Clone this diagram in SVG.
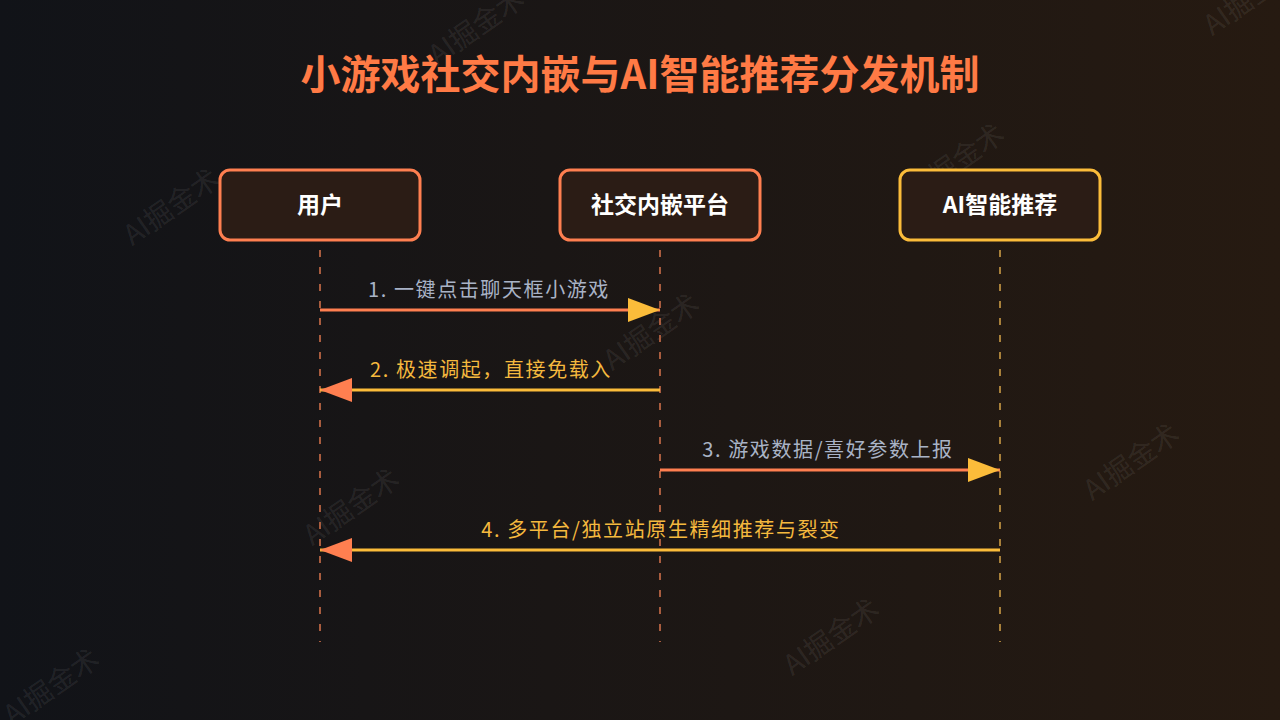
<svg xmlns="http://www.w3.org/2000/svg" width="1280" height="720" viewBox="0 0 1280 720">
<defs>
<linearGradient id="bg" x1="0" y1="0" x2="1" y2="0">
<stop offset="0" stop-color="#111318"/>
<stop offset="1" stop-color="#261a11"/>
</linearGradient>
<marker id="hGold" viewBox="0 0 32 24" refX="32" refY="12" markerWidth="32" markerHeight="24" markerUnits="userSpaceOnUse" orient="auto">
<path d="M0,0 L32,12 L0,24 Z" fill="#fbbc3a"/>
</marker>
<marker id="hCoral" viewBox="0 0 32 24" refX="32" refY="12" markerWidth="32" markerHeight="24" markerUnits="userSpaceOnUse" orient="auto">
<path d="M0,0 L32,12 L0,24 Z" fill="#ff7f50"/>
</marker>
</defs>
<style>
.wm{font-family:"Noto Sans CJK SC","Noto Sans",sans-serif;font-size:28px;fill:#ffffff;fill-opacity:0.085}
.title{font-family:"Noto Sans CJK SC","Noto Sans",sans-serif;font-size:40px;font-weight:bold;fill:#ff7a45}
.box{fill:#2b1c15;stroke-width:3}
.ntext{font-family:"Noto Sans CJK SC","Noto Sans",sans-serif;font-size:23px;font-weight:bold;fill:#ffffff}
.life{stroke-width:2;stroke-dasharray:7 10;fill:none}
.lbl{font-family:"Noto Sans CJK SC","Noto Sans",sans-serif;font-size:20px;letter-spacing:1.6px}
.msg{stroke-width:3;fill:none}
</style>
<rect width="1280" height="720" fill="url(#bg)"/>
<g id="watermarks">
<text class="wm" transform="translate(170,205) rotate(-35)" text-anchor="middle" dominant-baseline="central">AI掘金术</text>
<text class="wm" transform="translate(475,25) rotate(-35)" text-anchor="middle" dominant-baseline="central">AI掘金术</text>
<text class="wm" transform="translate(955,160) rotate(-35)" text-anchor="middle" dominant-baseline="central">AI掘金术</text>
<text class="wm" transform="translate(650,330) rotate(-35)" text-anchor="middle" dominant-baseline="central">AI掘金术</text>
<text class="wm" transform="translate(350,505) rotate(-35)" text-anchor="middle" dominant-baseline="central">AI掘金术</text>
<text class="wm" transform="translate(1130,460) rotate(-35)" text-anchor="middle" dominant-baseline="central">AI掘金术</text>
<text class="wm" transform="translate(830,635) rotate(-35)" text-anchor="middle" dominant-baseline="central">AI掘金术</text>
<text class="wm" transform="translate(50,685) rotate(-35)" text-anchor="middle" dominant-baseline="central">AI掘金术</text>
<text class="wm" transform="translate(1250,-5) rotate(-35)" text-anchor="middle" dominant-baseline="central">AI掘金术</text>
</g>
<text class="title" x="640" y="89" text-anchor="middle">小游戏社交内嵌与AI智能推荐分发机制</text>
<g id="lifelines">
<line class="life" x1="320" y1="250" x2="320" y2="642" stroke="#a85c3e"/>
<line class="life" x1="660" y1="250" x2="660" y2="642" stroke="#a85c3e"/>
<line class="life" x1="1000" y1="250" x2="1000" y2="642" stroke="#a8803a"/>
</g>
<g id="node-user">
<rect class="box" x="220" y="170" width="200" height="70" rx="10" stroke="#ff7f50"/>
<text class="ntext" x="320" y="213" text-anchor="middle">用户</text>
</g>
<g id="node-platform">
<rect class="box" x="560" y="170" width="200" height="70" rx="10" stroke="#ff7f50"/>
<text class="ntext" x="660" y="213" text-anchor="middle">社交内嵌平台</text>
</g>
<g id="node-ai">
<rect class="box" x="900" y="170" width="200" height="70" rx="10" stroke="#fbbc3a"/>
<text class="ntext" x="1000" y="213" text-anchor="middle">AI智能推荐</text>
</g>
<g id="connectors">
<line class="msg" x1="320" y1="310" x2="660" y2="310" stroke="#ff7f50" marker-end="url(#hGold)"/>
<text class="lbl" x="489" y="297" text-anchor="middle" fill="#a9b3c6">1. 一键点击聊天框小游戏</text>
<line class="msg" x1="660" y1="390" x2="320" y2="390" stroke="#fbbc3a" marker-end="url(#hCoral)"/>
<text class="lbl" x="491" y="377" text-anchor="middle" fill="#f5b93e">2. 极速调起，直接免载入</text>
<line class="msg" x1="660" y1="470" x2="1000" y2="470" stroke="#ff7f50" marker-end="url(#hGold)"/>
<text class="lbl" x="828" y="457" text-anchor="middle" fill="#a9b3c6">3. 游戏数据/喜好参数上报</text>
<line class="msg" x1="1000" y1="550" x2="320" y2="550" stroke="#fbbc3a" marker-end="url(#hCoral)"/>
<text class="lbl" x="661" y="537" text-anchor="middle" fill="#f5b93e">4. 多平台/独立站原生精细推荐与裂变</text>
</g>
</svg>
